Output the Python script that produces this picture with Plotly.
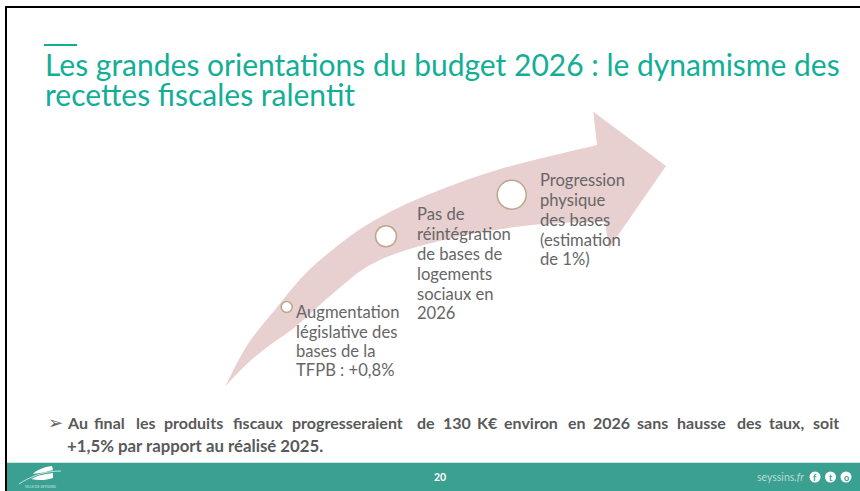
import plotly.graph_objects as go

W, H = 860, 491
TEAL = "#12AE96"
GREY = "#666666"
FOOT = "#3AA092"

title_lines = ["Les grandes orientations du budget 2026 : le dynamisme des", "recettes fiscales ralentit"]
title_y = [64, 94]

step1 = ["Augmentation", "législative des", "bases de la", "TFPB : +0,8%"]
step1_y = [312, 331.5, 351, 370]
step2 = ["Pas de", "réintégration", "de bases de", "logements", "sociaux en", "2026"]
step2_y = [214, 234, 254, 274, 294, 313]
step3 = ["Progression", "physique", "des bases", "(estimation", "de 1%)"]
step3_y = [180, 200, 220, 240, 259]

note_words = ["Au", "final", "les", "produits", "fiscaux", "progresseraient", "de", "130", "K€", "environ",
              "en", "2026", "sans", "hausse", "des", "taux,", "soit"]
note_x = [66, 93, 135, 163, 232, 291, 416, 442, 476, 503, 567, 592, 636, 676, 736, 768, 812]
note_line2 = "+1,5% par rapport au réalisé 2025."

arrow_upper = [(225.5, 386), (248, 344), (278, 306), (307, 272), (345, 240), (377, 219), (420, 198), (497, 170), (597, 145)]
arrow_head = [(593.3, 111.7), (666, 166), (609, 248.3), (605, 221.7)]
arrow_lower = [(605, 221.7), (543, 224), (477, 233), (413, 248), (370, 265), (337, 290), (295, 327), (270, 345), (248, 363), (225.5, 386)]
circles = [(286.7, 307, 5.5), (386, 236.3, 10.5), (511.7, 194.7, 14.5)]
icons = [(815, 477, "f"), (830.5, 477, "t"), (846, 477, "o")]

def smooth(pts):
    out = ""
    for i in range(len(pts) - 1):
        p0 = pts[max(i - 1, 0)]; p1 = pts[i]; p2 = pts[i + 1]; p3 = pts[min(i + 2, len(pts) - 1)]
        c1 = (p1[0] + (p2[0] - p0[0]) / 6, p1[1] + (p2[1] - p0[1]) / 6)
        c2 = (p2[0] - (p3[0] - p1[0]) / 6, p2[1] - (p3[1] - p1[1]) / 6)
        out += f" C{c1[0]:.1f},{c1[1]:.1f} {c2[0]:.1f},{c2[1]:.1f} {p2[0]:.1f},{p2[1]:.1f}"
    return out

arrow_path = (f"M{arrow_upper[0][0]},{arrow_upper[0][1]}" + smooth(arrow_upper)
              + "".join(f" L{x},{y}" for x, y in arrow_head) + smooth(arrow_lower) + " Z")

shapes = []
annos = []

def rect(x0, y0, x1, y1, color):
    shapes.append(dict(type="rect", x0=x0, y0=y0, x1=x1, y1=y1, fillcolor=color, line_width=0, layer="below"))

def text(x, y, s, size, color=GREY, family="Lato", bold=False, anchor="left"):
    annos.append(dict(x=x, y=y, xref="x", yref="y", text=f"<b>{s}</b>" if bold else s, showarrow=False,
                      xanchor=anchor, yanchor="middle", borderpad=0,
                      font=dict(family=family, size=size, color=color)))

# frame
rect(5, 6, 860, 8, "#000000")
rect(5, 6, 7, 491, "#000000")
# title rule
rect(44, 44, 77, 46, TEAL)
for s, y in zip(title_lines, title_y):
    text(44, y, s, 30.0, TEAL)

# arrow and circles
shapes.append(dict(type="path", path=arrow_path, fillcolor="#E8CFD0", line_width=0, layer="below"))
for cx, cy, r in circles:
    shapes.append(dict(type="circle", x0=cx-r, x1=cx+r, y0=cy-r, y1=cy+r, fillcolor="white",
                       line=dict(color="#BCA88C", width=1.5), layer="below"))

for lines, ys, x in [(step1, step1_y, 295), (step2, step2_y, 415.5), (step3, step3_y, 539)]:
    for s, y in zip(lines, ys):
        text(x, y, s, 16.6)

# note
text(47, 422, "➢", 18, GREY, "DejaVu Sans")
for w, x in zip(note_words, note_x):
    text(x, 422, w, 16.0, "#595959", bold=True)
text(66, 445, note_line2, 16.8, "#595959", bold=True)

# footer
rect(7, 463, 860, 491, FOOT)
rect(7, 462, 860, 463, "#D5E5E2")
text(440, 477, "20", 10.5, "white", bold=True, anchor="center")
text(805, 477, "seyssins.<i>fr</i>", 10.5, "#BBDCD5", anchor="right")
for cx, cy, g in icons:
    shapes.append(dict(type="circle", x0=cx-5.5, x1=cx+5.5, y0=cy-5.5, y1=cy+5.5, fillcolor="white", line_width=0))
    text(cx, cy, g, 9, FOOT, bold=True, anchor="center")
# logo
shapes.append(dict(type="path", path="M33,474 C36,470 44,467 52,466 L53,470 C47,472 40,473 33,474 Z",
                   fillcolor="white", line_width=0))
shapes.append(dict(type="path", path="M31,479 C38,475 46,474 53,473 L53,478 C47,480 39,481 31,479 Z",
                   fillcolor="white", line_width=0))
shapes.append(dict(type="path", path="M19,484 C28,478 42,471 61,471", line=dict(color="white", width=0.7)))
text(40, 487, "VILLE DE SEYSSINS", 3.5, "#CFE6E1", anchor="center")

fig = go.Figure()
fig.update_layout(width=W, height=H, margin=dict(l=0, r=0, t=0, b=0), paper_bgcolor="white", plot_bgcolor="white",
                  xaxis=dict(range=[0, W], visible=False, fixedrange=True),
                  yaxis=dict(range=[H, 0], visible=False, fixedrange=True),
                  shapes=shapes, annotations=annos, showlegend=False)
fig.write_html("out.html", config=dict(displayModeBar=False),
               post_script="document.body.style.margin='0';document.documentElement.style.overflow='hidden';")
